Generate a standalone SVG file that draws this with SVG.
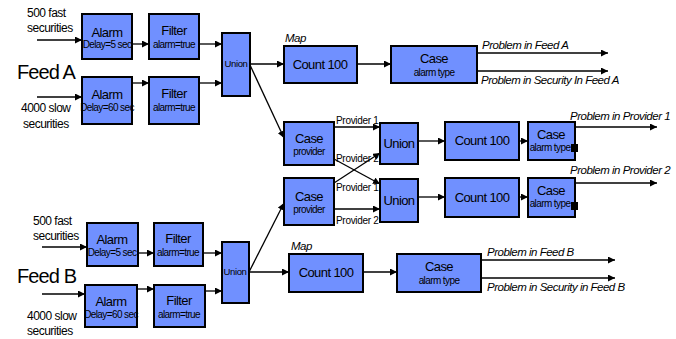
<svg xmlns="http://www.w3.org/2000/svg" width="676" height="339" viewBox="0 0 676 339">
  <defs>
    <marker id="arr" viewBox="0 0 10 10" refX="10" refY="5" markerWidth="7" markerHeight="7" markerUnits="userSpaceOnUse" orient="auto">
      <path d="M0,0 L10,5 L0,10 z" fill="#000"/>
    </marker>
    <style>
      .box{fill:#7090ff;stroke:#000;stroke-width:2}
      .t{font-family:"Liberation Sans",Arial,sans-serif;fill:#000;text-anchor:middle}
      .big{font-size:13px;letter-spacing:-0.6px}
      .sm{font-size:10px;letter-spacing:-0.6px}
      .un{font-size:9.5px;letter-spacing:-0.4px}
      .lab{font-family:"Liberation Sans",Arial,sans-serif;font-size:12px;fill:#000;letter-spacing:-0.5px}
      .feed{font-family:"Liberation Sans",Arial,sans-serif;font-size:20px;fill:#000;letter-spacing:-0.9px}
      .it{font-family:"Liberation Sans",Arial,sans-serif;font-size:11.5px;font-style:italic;fill:#000;letter-spacing:-0.5px}
      .pv{font-family:"Liberation Sans",Arial,sans-serif;font-size:10px;fill:#000;letter-spacing:-0.3px}
      .c{stroke:#000;stroke-width:1.3;fill:none;marker-end:url(#arr)}
      .sq{fill:#000}
    </style>
  </defs>

  <!-- source labels -->
  <text class="lab" x="27" y="17">500 fast</text>
  <text class="lab" x="27" y="32">securities</text>
  <text class="feed" x="17" y="79">Feed A</text>
  <text class="lab" x="21" y="112">4000 slow</text>
  <text class="lab" x="23" y="128">securities</text>

  <text class="lab" x="33" y="225">500 fast</text>
  <text class="lab" x="33" y="240">securities</text>
  <text class="feed" x="17" y="283">Feed B</text>
  <text class="lab" x="27" y="320">4000 slow</text>
  <text class="lab" x="27" y="335">securities</text>

  <!-- connectors -->
  <g id="connectors">
    <line class="c" x1="37" y1="40" x2="82" y2="40"/>
    <line class="c" x1="132" y1="44" x2="149" y2="44"/>
    <line class="c" x1="199" y1="44" x2="222" y2="44"/>
    <line class="c" x1="37" y1="97" x2="82" y2="97"/>
    <line class="c" x1="132" y1="83" x2="149" y2="83"/>
    <line class="c" x1="199" y1="83" x2="222" y2="83"/>
    <line class="c" x1="250" y1="64" x2="284" y2="64"/>
    <line class="c" x1="357" y1="64" x2="391" y2="64"/>
    <line class="c" x1="477" y1="53" x2="608" y2="53"/>
    <line class="c" x1="477" y1="71" x2="608" y2="71"/>
    <line class="c" x1="250" y1="65" x2="284" y2="138"/>
    <line class="c" x1="249" y1="272" x2="284" y2="203"/>

    <line class="c" x1="334" y1="127" x2="380" y2="127"/>
    <line class="c" x1="334" y1="159" x2="380" y2="184"/>
    <line class="c" x1="334" y1="183" x2="380" y2="153"/>
    <line class="c" x1="334" y1="209" x2="380" y2="209"/>
    <line class="c" x1="418" y1="141" x2="445" y2="141"/>
    <line class="c" x1="418" y1="197" x2="445" y2="197"/>
    <line class="c" x1="519" y1="141" x2="528" y2="141"/>
    <line class="c" x1="519" y1="197" x2="528" y2="197"/>
    <line class="c" x1="575" y1="127" x2="657" y2="127"/>
    <line class="c" x1="575" y1="183" x2="657" y2="183"/>

    <line class="c" x1="42" y1="247" x2="87" y2="247"/>
    <line class="c" x1="138" y1="253" x2="154" y2="253"/>
    <line class="c" x1="203" y1="253" x2="222" y2="253"/>
    <line class="c" x1="42" y1="294" x2="85" y2="294"/>
    <line class="c" x1="137" y1="289" x2="154" y2="289"/>
    <line class="c" x1="205" y1="291" x2="222" y2="291"/>
    <line class="c" x1="249" y1="272" x2="289" y2="272"/>
    <line class="c" x1="363" y1="272" x2="397" y2="272"/>
    <line class="c" x1="481" y1="260" x2="615" y2="260"/>
    <line class="c" x1="481" y1="278" x2="615" y2="278"/>
  </g>

  <!-- connector labels -->
  <text class="it" x="285" y="42">Map</text>
  <text class="it" x="482" y="49">Problem in Feed A</text>
  <text class="it" x="481" y="84">Problem in Security In Feed A</text>
  <text class="pv" x="336" y="124">Provider 1</text>
  <text class="pv" x="336" y="162">Provider 2</text>
  <text class="pv" x="336" y="191">Provider 1</text>
  <text class="pv" x="336" y="224">Provider 2</text>
  <text class="it" x="570" y="120">Problem in Provider 1</text>
  <text class="it" x="570" y="174">Problem in Provider 2</text>
  <text class="it" x="291" y="250">Map</text>
  <text class="it" x="487" y="256">Problem in Feed B</text>
  <text class="it" x="487" y="291">Problem in Security in Feed B</text>

  <!-- feed A nodes -->
  <g id="alarmA1"><rect class="box" x="82" y="14" width="50" height="45"/>
    <text class="t big" x="107" y="37">Alarm</text><text class="t sm" x="107" y="48">Delay=5 sec</text></g>
  <g id="filterA1"><rect class="box" x="149" y="14" width="50" height="45"/>
    <text class="t big" x="174" y="35">Filter</text><text class="t sm" x="174" y="48">alarm=true</text></g>
  <g id="alarmA2"><rect class="box" x="82" y="77" width="50" height="47"/>
    <text class="t big" x="107" y="99">Alarm</text><text class="t sm" x="107" y="111">Delay=60 sec</text></g>
  <g id="filterA2"><rect class="box" x="149" y="77" width="50" height="47"/>
    <text class="t big" x="174" y="98">Filter</text><text class="t sm" x="174" y="111">alarm=true</text></g>
  <g id="unionA"><rect class="box" x="222" y="33" width="28" height="63"/>
    <text class="t un" x="236" y="67">Union</text></g>
  <g id="countA"><rect class="box" x="284" y="46" width="73" height="37"/>
    <text class="t big" x="320" y="69">Count 100</text></g>
  <g id="caseA"><rect class="box" x="391" y="46" width="86" height="37"/>
    <text class="t big" x="434" y="63">Case</text><text class="t sm" x="434" y="76">alarm type</text></g>

  <!-- provider split -->
  <g id="caseP1"><rect class="box" x="284" y="122" width="50" height="43"/>
    <text class="t big" x="309" y="143">Case</text><text class="t sm" x="309" y="155">provider</text></g>
  <g id="caseP2"><rect class="box" x="284" y="178" width="50" height="47"/>
    <text class="t big" x="309" y="201">Case</text><text class="t sm" x="309" y="213">provider</text></g>
  <g id="unionP1"><rect class="box" x="380" y="123" width="38" height="41"/>
    <text class="t big" x="399" y="148">Union</text></g>
  <g id="unionP2"><rect class="box" x="380" y="179" width="38" height="43"/>
    <text class="t big" x="399" y="205">Union</text></g>
  <g id="countP1"><rect class="box" x="445" y="122" width="74" height="38"/>
    <text class="t big" x="482" y="145">Count 100</text></g>
  <g id="countP2"><rect class="box" x="445" y="178" width="74" height="39"/>
    <text class="t big" x="482" y="202">Count 100</text></g>
  <g id="caseT1"><rect class="box" x="528" y="122" width="47" height="38"/>
    <text class="t big" x="551" y="139">Case</text><text class="t sm" x="550" y="151">alarm type</text>
    <rect class="sq" x="571" y="144" width="7" height="8"/></g>
  <g id="caseT2"><rect class="box" x="528" y="178" width="47" height="39"/>
    <text class="t big" x="551" y="195">Case</text><text class="t sm" x="550" y="207">alarm type</text>
    <rect class="sq" x="571" y="202" width="7" height="8"/></g>

  <!-- feed B nodes -->
  <g id="alarmB1"><rect class="box" x="87" y="223" width="51" height="43"/>
    <text class="t big" x="112" y="244">Alarm</text><text class="t sm" x="112" y="256">Delay=5 sec</text></g>
  <g id="filterB1"><rect class="box" x="154" y="223" width="49" height="43"/>
    <text class="t big" x="178" y="243">Filter</text><text class="t sm" x="178" y="256">alarm=true</text></g>
  <g id="alarmB2"><rect class="box" x="85" y="285" width="52" height="42"/>
    <text class="t big" x="111" y="306">Alarm</text><text class="t sm" x="111" y="318">Delay=60 sec</text></g>
  <g id="filterB2"><rect class="box" x="154" y="285" width="51" height="42"/>
    <text class="t big" x="179" y="305">Filter</text><text class="t sm" x="179" y="318">alarm=true</text></g>
  <g id="unionB"><rect class="box" x="222" y="242" width="27" height="61"/>
    <text class="t un" x="235" y="275">Union</text></g>
  <g id="countB"><rect class="box" x="289" y="254" width="74" height="38"/>
    <text class="t big" x="326" y="277">Count 100</text></g>
  <g id="caseB"><rect class="box" x="397" y="254" width="84" height="38"/>
    <text class="t big" x="439" y="271">Case</text><text class="t sm" x="439" y="284">alarm type</text></g>
</svg>
